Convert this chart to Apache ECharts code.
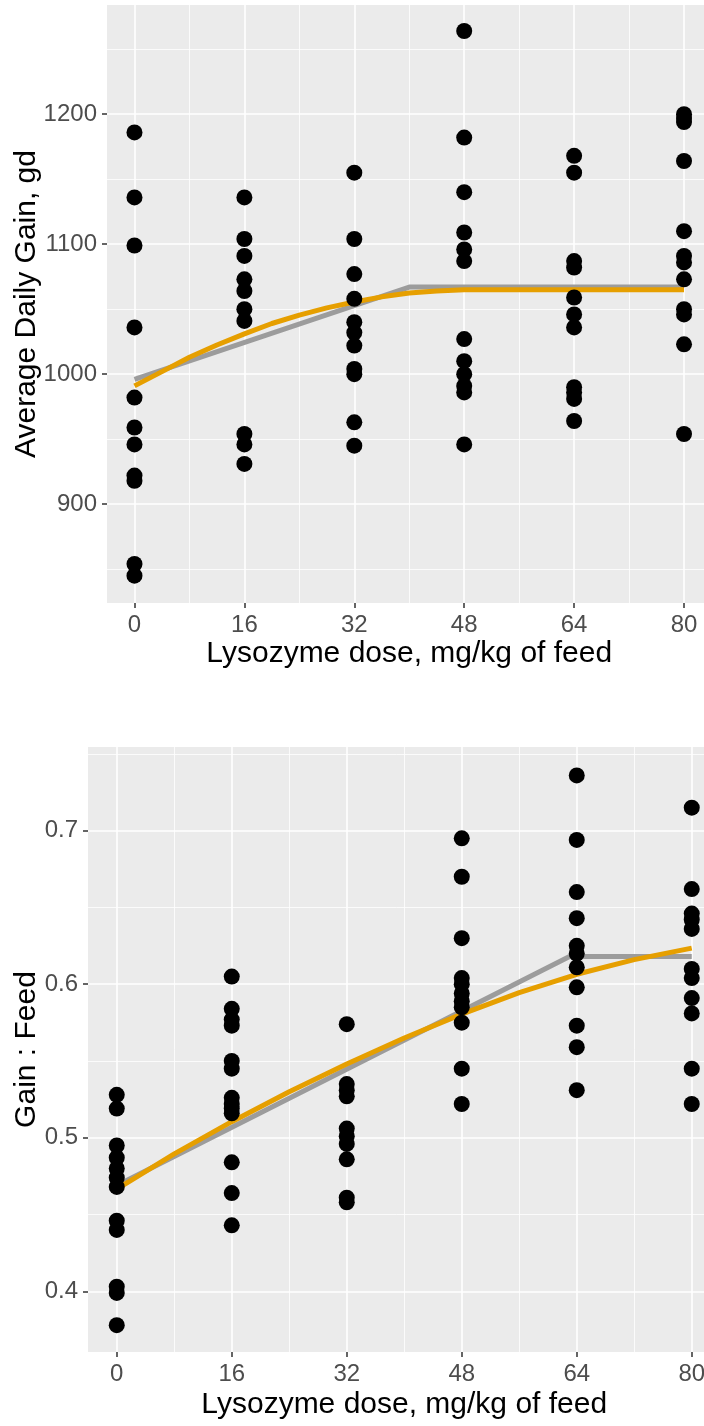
<!DOCTYPE html>
<html>
<head>
<meta charset="utf-8">
<script src="https://cdn.jsdelivr.net/npm/echarts@6/dist/echarts.min.js"></script>
<style>
  html, body { margin: 0; padding: 0; background: #fff; }
  #main { width: 704px; height: 1426px; }
</style>
</head>
<body>
<div id="main"></div>
<script>
// doses (mg/kg of feed)
var doses = [0, 16, 32, 48, 64, 80];
var xTicks = [0, 16, 32, 48, 64, 80];
var xMinor = [8, 24, 40, 56, 72];

// Average daily gain, per dose
var adg0  = [1186, 1136, 1099, 1036, 982, 959, 946, 922, 918, 854, 845];
var adg16 = [1136, 1104, 1091, 1073, 1064, 1050, 1041, 954, 946, 931];
var adg32 = [1155, 1104, 1077, 1058, 1040, 1032, 1022, 1004, 1000, 963, 945];
var adg48 = [1264, 1182, 1140, 1109, 1096, 1087, 1027, 1010, 1000, 991, 986, 946];
var adg64 = [1168, 1155, 1087, 1082, 1059, 1046, 1036, 990, 986, 981, 964];
var adg80 = [1200, 1197, 1194, 1164, 1110, 1091, 1086, 1073, 1050, 1046, 1023, 954];
var adgTicks = [900, 1000, 1100, 1200];
var adgMinor = [850, 950, 1050, 1150, 1250];

// fitted curves, ADG
var adgLinX = [0, 40, 80];
var adgLinY = [996, 1067, 1067];
var adgQuadX = [0, 4, 8, 12, 16, 20, 24, 28, 32, 36, 40, 44, 48, 52, 80];
var adgQuadY = [991, 1002, 1013, 1022.5, 1031, 1039, 1045.5, 1051, 1055.5, 1059.5, 1062.5, 1064, 1065, 1065, 1065];

// Gain : Feed, per dose
var gf0  = [0.528, 0.519, 0.495, 0.487, 0.480, 0.474, 0.468, 0.446, 0.440, 0.403, 0.399, 0.378];
var gf16 = [0.605, 0.584, 0.577, 0.573, 0.550, 0.545, 0.526, 0.522, 0.519, 0.516, 0.484, 0.464, 0.443];
var gf32 = [0.574, 0.535, 0.531, 0.527, 0.506, 0.501, 0.496, 0.486, 0.461, 0.458];
var gf48 = [0.695, 0.670, 0.630, 0.604, 0.600, 0.594, 0.589, 0.585, 0.575, 0.545, 0.522];
var gf64 = [0.736, 0.694, 0.660, 0.643, 0.625, 0.620, 0.611, 0.598, 0.573, 0.559, 0.531];
var gf80 = [0.715, 0.662, 0.646, 0.642, 0.636, 0.610, 0.604, 0.591, 0.581, 0.545, 0.522];
var gfTicks = [0.4, 0.5, 0.6, 0.7];
var gfMinor = [0.45, 0.55, 0.65, 0.75];

// fitted curves, G:F
var gfLinX = [0, 63, 80];
var gfLinY = [0.469, 0.618, 0.618];
var gfQuadX = [0, 8, 16, 24, 32, 40, 48, 56, 64, 72, 80];
var gfQuadY = [0.4665, 0.4895, 0.5105, 0.5300, 0.5480, 0.5650, 0.5805, 0.5945, 0.6065, 0.6160, 0.6235];

function points (groups) {
    var out = [];
    for (var i = 0; i < doses.length; i++) {
        for (var j = 0; j < groups[i].length; j++) {
            out.push([doses[i], groups[i][j]]);
        }
    }
    return out;
}
function pairs (xs, ys) {
    return xs.map(function (x, i) { return [x, ys[i]]; });
}

var FONT = 'Liberation Sans, Arial, sans-serif';
var GRID_BG = '#EBEBEB';

function majorAxis (gridIndex, min, max, ticks, pos, extra) {
    var a = {
        type: 'value',
        gridIndex: gridIndex,
        position: pos,
        min: min,
        max: max,
        axisLine: { show: false, onZero: false },
        axisTick: {
            show: true, length: 5, customValues: ticks,
            lineStyle: { color: '#333333', width: 1.5 }
        },
        axisLabel: {
            customValues: ticks, color: '#4D4D4D', fontSize: 24,
            fontFamily: FONT, margin: 10,
            formatter: function (v) { return String(v); }
        },
        splitLine: { show: true, lineStyle: { color: '#ffffff', width: 1.6 } },
        nameLocation: 'middle',
        nameMoveOverlap: false,
        nameTextStyle: { color: '#000', fontSize: 30, fontFamily: FONT }
    };
    for (var k in extra) a[k] = extra[k];
    return a;
}
function minorAxis (gridIndex, min, max, ticks, pos) {
    return {
        type: 'value',
        gridIndex: gridIndex,
        position: pos,
        min: min,
        max: max,
        axisLine: { show: false, onZero: false },
        axisTick: { show: false, customValues: ticks },
        axisLabel: { show: false, customValues: ticks },
        splitLine: { show: true, lineStyle: { color: '#ffffff', width: 0.8 } }
    };
}

var myChart = echarts.init(document.getElementById('main'));

myChart.setOption({
    backgroundColor: '#ffffff',
    animation: false,
    grid: [
        { left: 107, top: 5, right: -7.5, height: 598, show: true,
          backgroundColor: GRID_BG, borderWidth: 0, outerBoundsMode: 'none' },
        { left: 88, top: 747, right: -16.5, height: 605, show: true,
          backgroundColor: GRID_BG, borderWidth: 0, outerBoundsMode: 'none' }
    ],
    xAxis: [
        minorAxis(0, -4, 84, xMinor, 'bottom'),
        majorAxis(0, -4, 84, xTicks, 'bottom',
            { name: 'Lysozyme dose, mg/kg of feed', nameGap: 36 }),
        minorAxis(1, -4, 84, xMinor, 'bottom'),
        majorAxis(1, -4, 84, xTicks, 'bottom',
            { name: 'Lysozyme dose, mg/kg of feed', nameGap: 38 })
    ],
    yAxis: [
        minorAxis(0, 824, 1284, adgMinor, 'left'),
        majorAxis(0, 824, 1284, adgTicks, 'left',
            { name: 'Average Daily Gain, gd', nameGap: 65, nameRotate: 90 }),
        minorAxis(1, 0.3605, 0.7545, gfMinor, 'left'),
        majorAxis(1, 0.3605, 0.7545, gfTicks, 'left',
            { name: 'Gain : Feed', nameGap: 46, nameRotate: 90 })
    ],
    series: [
        {
            name: 'ADG linear plateau', type: 'line',
            xAxisIndex: 1, yAxisIndex: 1,
            data: pairs(adgLinX, adgLinY),
            showSymbol: false, z: 2,
            lineStyle: { color: '#9C9C9C', width: 5 }
        },
        {
            name: 'ADG quadratic plateau', type: 'line',
            xAxisIndex: 1, yAxisIndex: 1,
            data: pairs(adgQuadX, adgQuadY),
            showSymbol: false, smooth: false, z: 3,
            lineStyle: { color: '#E69F00', width: 5 }
        },
        {
            name: 'ADG', type: 'scatter',
            xAxisIndex: 1, yAxisIndex: 1,
            data: points([adg0, adg16, adg32, adg48, adg64, adg80]),
            symbolSize: 16, z: 4,
            itemStyle: { color: '#000000', opacity: 1 }
        },
        {
            name: 'G:F linear plateau', type: 'line',
            xAxisIndex: 3, yAxisIndex: 3,
            data: pairs(gfLinX, gfLinY),
            showSymbol: false, z: 2,
            lineStyle: { color: '#9C9C9C', width: 5 }
        },
        {
            name: 'G:F quadratic plateau', type: 'line',
            xAxisIndex: 3, yAxisIndex: 3,
            data: pairs(gfQuadX, gfQuadY),
            showSymbol: false, smooth: false, z: 3,
            lineStyle: { color: '#E69F00', width: 5 }
        },
        {
            name: 'G:F', type: 'scatter',
            xAxisIndex: 3, yAxisIndex: 3,
            data: points([gf0, gf16, gf32, gf48, gf64, gf80]),
            symbolSize: 16, z: 4,
            itemStyle: { color: '#000000', opacity: 1 }
        }
    ]
});
</script>
</body>
</html>
